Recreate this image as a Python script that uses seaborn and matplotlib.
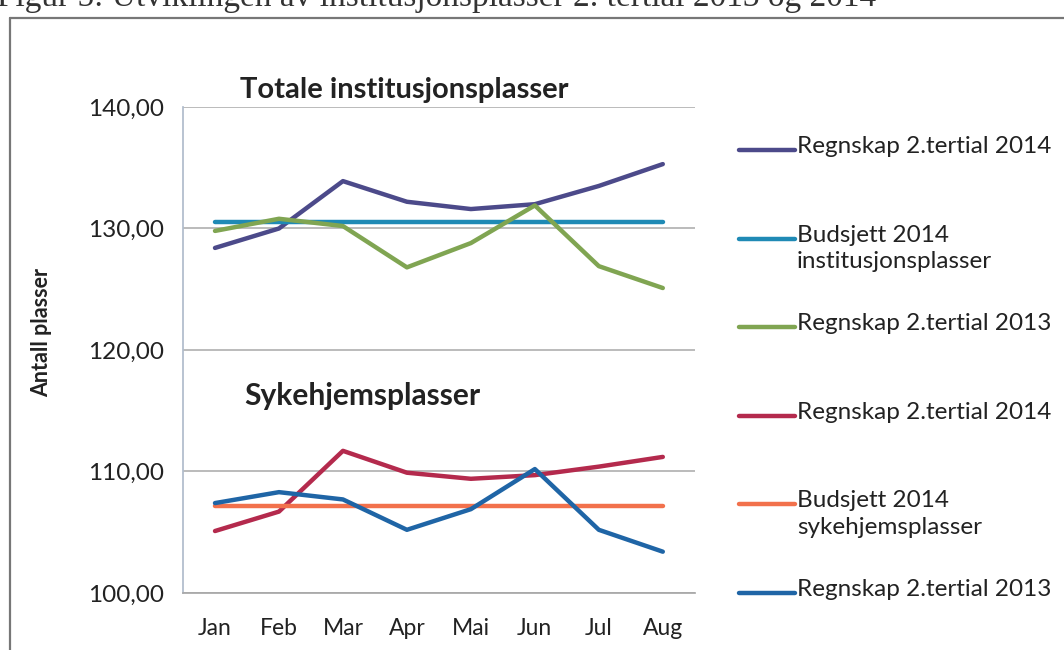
import numpy as np
import pandas as pd
import matplotlib.pyplot as plt
import seaborn as sns
from matplotlib.lines import Line2D

# data
months = ["Jan", "Feb", "Mar", "Apr", "Mai", "Jun", "Jul", "Aug"]
regnskap_2014_tot = [128.4, 130.0, 133.9, 132.2, 131.6, 132.0, 133.5, 135.3]
budsjett_2014_tot = [130.5, 130.5, 130.5, 130.5, 130.5, 130.5, 130.5, 130.5]
regnskap_2013_tot = [129.8, 130.8, 130.2, 126.8, 128.8, 131.9, 126.9, 125.1]
regnskap_2014_syk = [105.1, 106.7, 111.7, 109.9, 109.4, 109.7, 110.4, 111.2]
budsjett_2014_syk = [107.2, 107.2, 107.2, 107.2, 107.2, 107.2, 107.2, 107.2]
regnskap_2013_syk = [107.4, 108.3, 107.7, 105.2, 106.9, 110.2, 105.2, 103.4]

labels = ["Regnskap 2.tertial 2014", "Budsjett 2014\ninstitusjonsplasser",
          "Regnskap 2.tertial 2013", "Regnskap 2.tertial 2014",
          "Budsjett 2014\nsykehjemsplasser", "Regnskap 2.tertial 2013"]
series = [regnskap_2014_tot, budsjett_2014_tot, regnskap_2013_tot,
          regnskap_2014_syk, budsjett_2014_syk, regnskap_2013_syk]
colors = ["#4c4a8a", "#1f8ab5", "#80a552", "#b42a4d", "#f2714c", "#1f65a6"]

sns.set_theme(style="white")
plt.rcParams["font.family"] = ["Lato", "DejaVu Sans"]

fig = plt.figure(figsize=(10.64, 6.5), dpi=100)
ax = fig.add_axes([0.172, 0.0877, 0.481, 0.7477])

x = np.arange(len(months))
for vals, c in zip(series, colors):
    sns.lineplot(x=x, y=vals, color=c, linewidth=3.2, ax=ax)

ax.set_xlim(-0.5, len(months) - 0.5)
ax.set_ylim(100, 140)
ax.set_yticks([100, 110, 120, 130, 140])
ax.set_yticklabels(["100,00", "110,00", "120,00", "130,00", "140,00"], fontsize=17.5, color="#222222")
ax.set_xticks(x)
ax.set_xticklabels(months, fontsize=16.5, color="#222222")
ax.tick_params(axis="y", length=0, pad=14)
ax.tick_params(axis="x", length=0, pad=18)
ax.grid(axis="y", color="#a8a8a8", linewidth=1.1)
ax.set_axisbelow(True)
for s in ["top", "right"]:
    ax.spines[s].set_visible(False)
ax.spines["left"].set_color("#b0bccc")
ax.spines["bottom"].set_color("#a8a8a8")
ax.set_ylabel("Antall plasser", fontsize=15.5, fontweight="bold", color="#222222")
ax.yaxis.set_label_coords(-0.255, 0.535)

fig.text(0.226, 0.862, "Totale institusjonsplasser", fontsize=21, fontweight="bold",
         color="#222222", va="center")
fig.text(0.230, 0.390, "Sykehjemsplasser", fontsize=21.5, fontweight="bold",
         color="#222222", va="center")

# legend to the right, one slot per series
y0, step = 150, 88.6
for i, (lab, c) in enumerate(zip(labels, colors)):
    yp = 1 - (y0 + i * step) / 650
    fig.add_artist(Line2D([0.695, 0.747], [yp, yp], color=c, linewidth=3.2,
                          transform=fig.transFigure))
    fig.text(0.749, yp + 0.0215, lab, fontsize=17.5, color="#222222", va="top",
             linespacing=1.3)

# scanned page: caption cut off at the top and the frame
fig.text(-0.003, 1 - 6 / 650, "Figur 5: Utviklingen av institusjonsplasser 2. tertial 2013 og 2014",
         fontsize=24, family=["Liberation Serif", "DejaVu Serif"], color="#333333", va="baseline")
fig.add_artist(Line2D([0.009, 1.0], [1 - 18 / 650, 1 - 18 / 650], color="#777777",
                      linewidth=1.6, transform=fig.transFigure))
fig.add_artist(Line2D([0.009, 0.009], [0, 1 - 18 / 650], color="#777777",
                      linewidth=1.6, transform=fig.transFigure))

fig.savefig("out.png", dpi=100)
